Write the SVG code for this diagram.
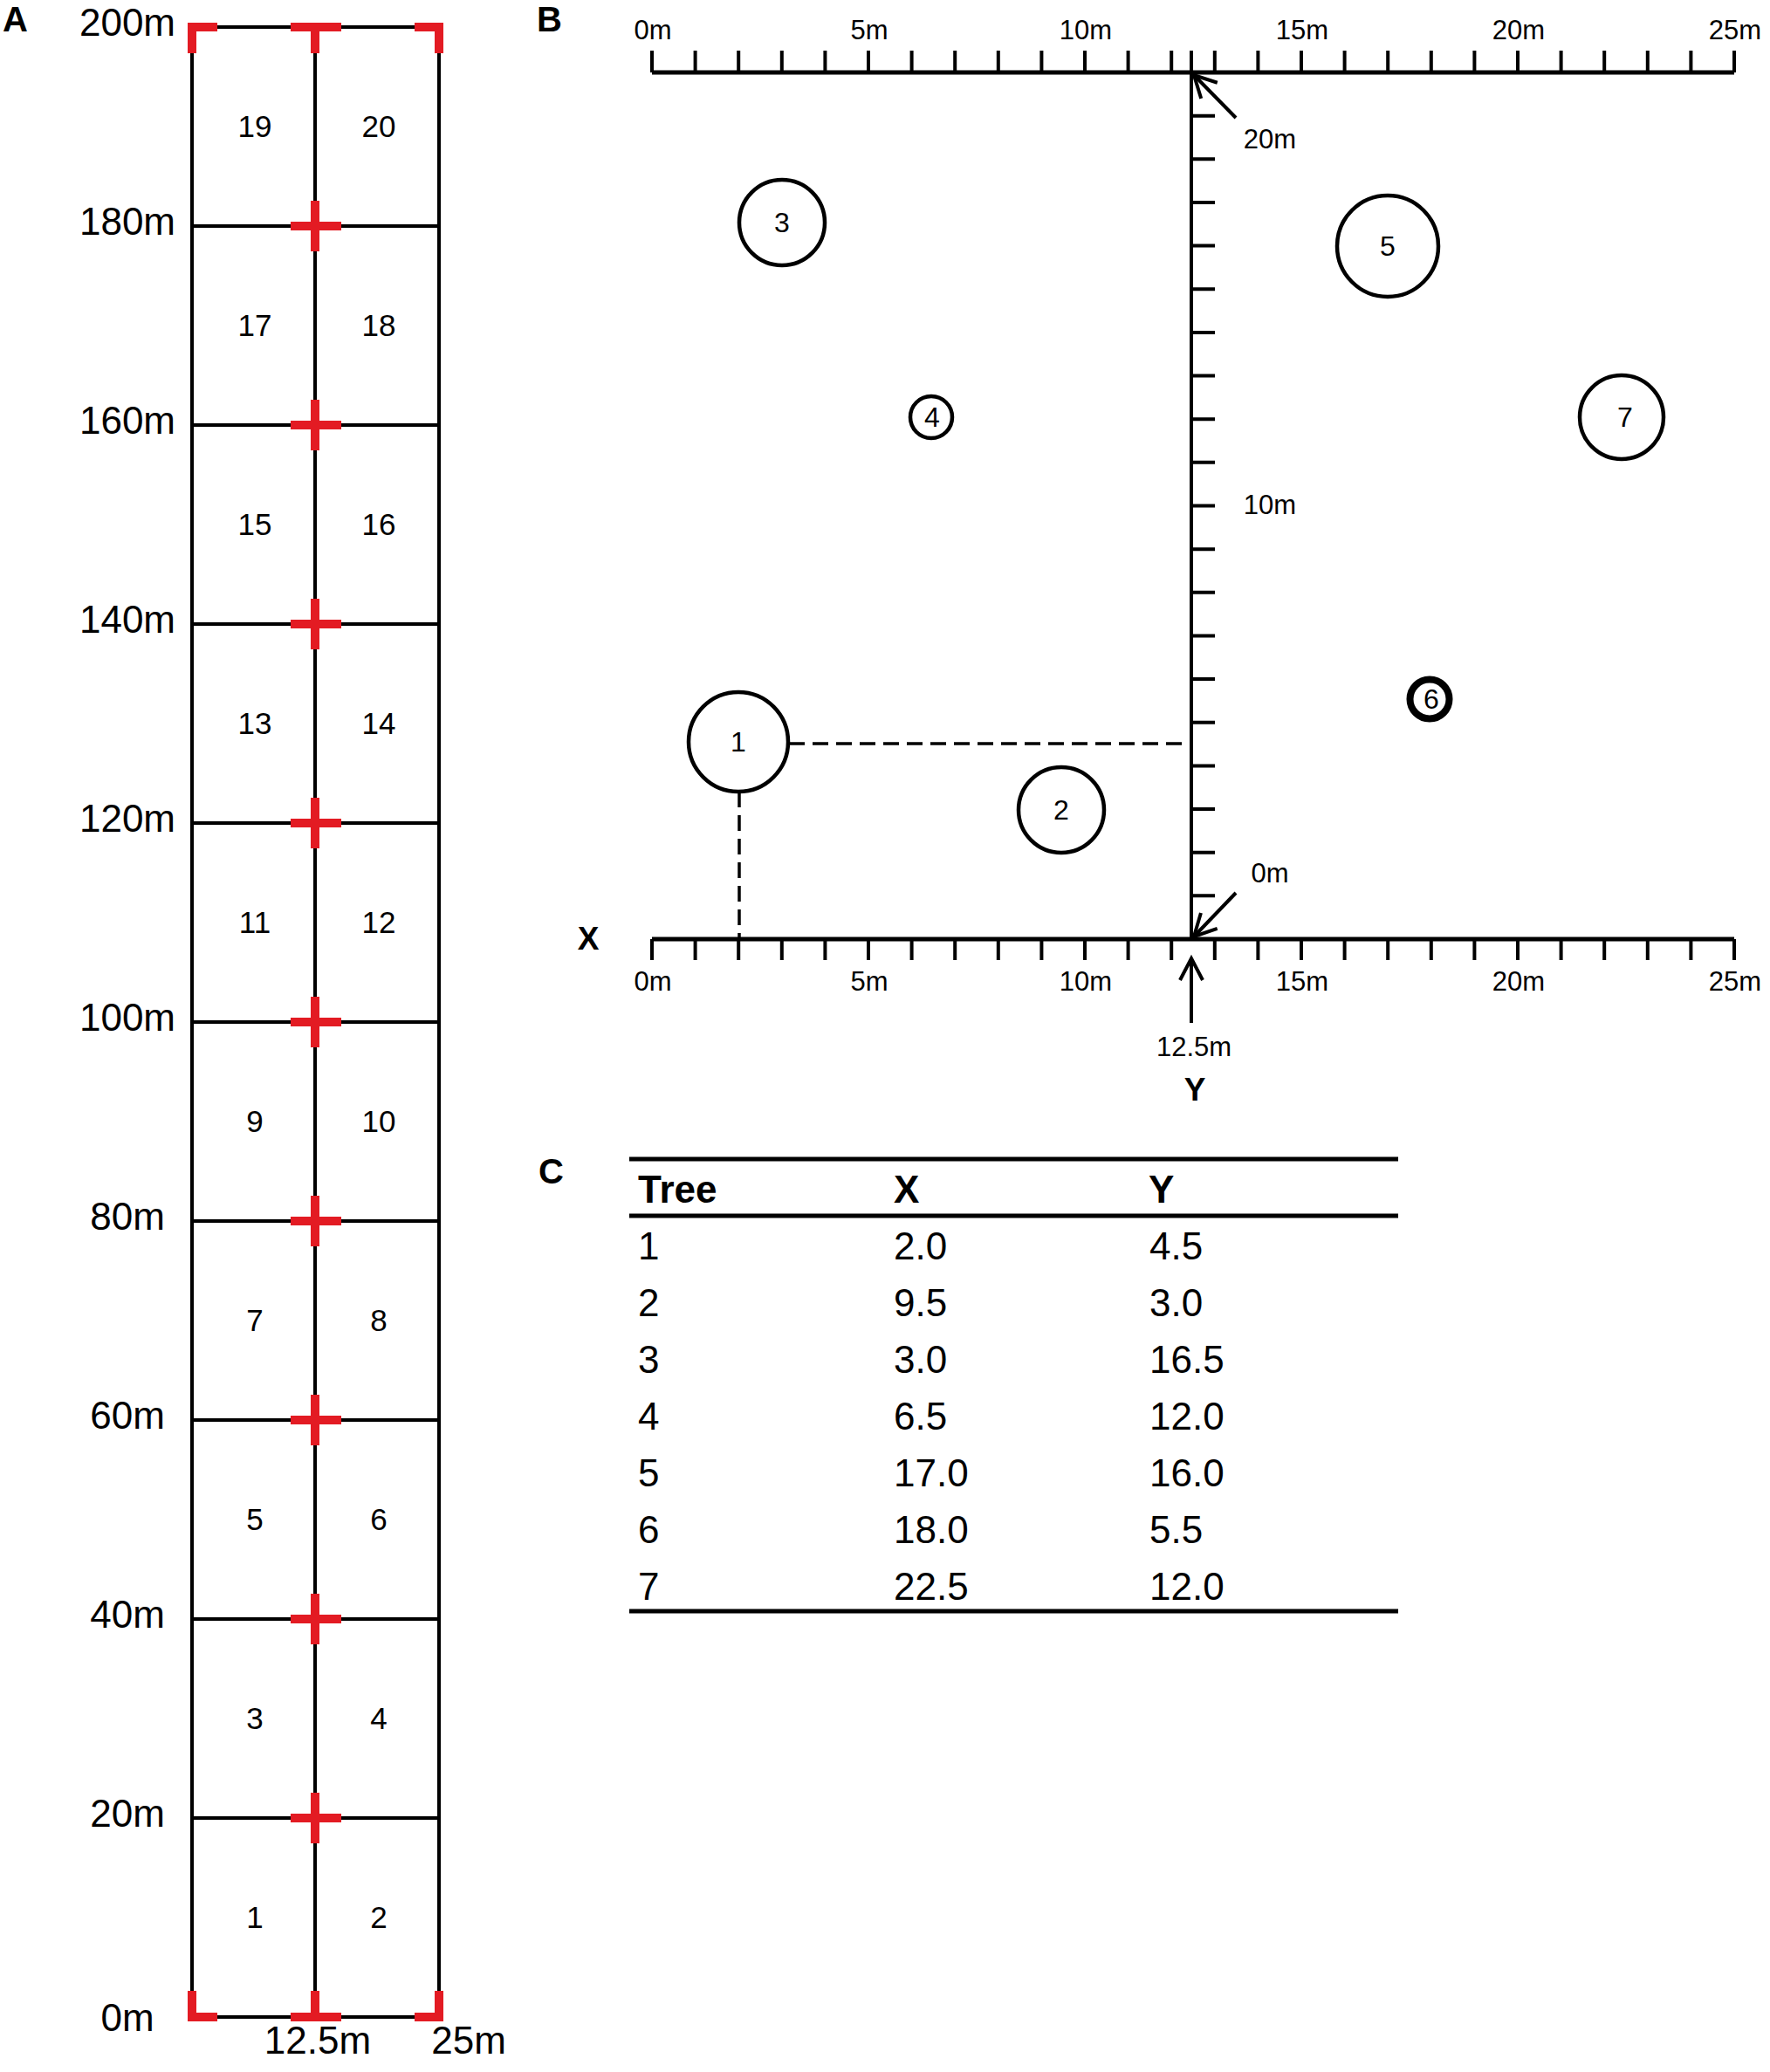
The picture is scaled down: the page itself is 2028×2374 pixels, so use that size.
<svg xmlns="http://www.w3.org/2000/svg" width="2028" height="2374" viewBox="0 0 2028 2374">
<style>
text{font-family:"Liberation Sans",Arial,sans-serif;fill:#000}
.pl{font-weight:bold;font-size:40px}
.al{font-size:44px;text-anchor:middle}
.cl{font-size:35px;text-anchor:middle}
.bl{font-size:31px;text-anchor:middle}
.tl{font-size:32px;text-anchor:middle}
.tb{font-size:44px}
.th{font-size:44px;font-weight:bold}
.ax{font-size:37px;font-weight:bold;text-anchor:middle}
.grid{fill:none;stroke:#000;stroke-width:4}
.red{fill:none;stroke:#e31b23;stroke-width:10;stroke-linejoin:miter;stroke-linecap:butt}
.axis{fill:none;stroke:#000;stroke-width:5}
.tick{fill:none;stroke:#000;stroke-width:4}
.tree{fill:none;stroke:#000;stroke-width:4.5}
.dash{fill:none;stroke:#000;stroke-width:3.5;stroke-dasharray:18 9}
.arr{fill:none;stroke:#000;stroke-width:4}
.rule{stroke:#000;stroke-width:5}
</style>
<defs>
<marker id="chev" markerUnits="userSpaceOnUse" markerWidth="32" markerHeight="32" refX="28" refY="16" orient="auto" overflow="visible">
<path d="M3,3 L28,16 L3,29" fill="none" stroke="#000" stroke-width="4"/>
</marker>
</defs>
<rect width="2028" height="2374" fill="#fff"/>

<g id="panel-labels">
<text class="pl" x="3" y="36">A</text>
<text class="pl" x="615" y="36">B</text>
<text class="pl" x="617" y="1356">C</text>
</g>

<g id="plot-grid">
<rect class="grid" x="220" y="31" width="283" height="2280"/>
<path class="grid" d="M361,31V2311 M220,259H503 M220,487H503 M220,715H503 M220,943H503 M220,1171H503 M220,1399H503 M220,1627H503 M220,1855H503 M220,2083H503"/>
</g>

<g id="plot-markers">
<path class="red" d="M249,31H220V61 M333,31H391 M361,31V61 M475,31H503V61"/>
<path class="red" d="M333,259H391 M361,230V288 M333,487H391 M361,458V516 M333,715H391 M361,686V744 M333,943H391 M361,914V972 M333,1171H391 M361,1142V1200 M333,1399H391 M361,1370V1428 M333,1627H391 M361,1598V1656 M333,1855H391 M361,1826V1884 M333,2083H391 M361,2054V2112"/>
<path class="red" d="M220,2281V2311H249 M333,2311H391 M361,2311V2281 M503,2281V2311H475"/>
</g>

<g id="plot-axis-labels">
<text class="al" x="146" y="41">200m</text>
<text class="al" x="146" y="269">180m</text>
<text class="al" x="146" y="497">160m</text>
<text class="al" x="146" y="725">140m</text>
<text class="al" x="146" y="953">120m</text>
<text class="al" x="146" y="1181">100m</text>
<text class="al" x="146" y="1409">80m</text>
<text class="al" x="146" y="1637">60m</text>
<text class="al" x="146" y="1865">40m</text>
<text class="al" x="146" y="2093">20m</text>
<text class="al" x="146" y="2327">0m</text>
<text class="al" x="364" y="2353">12.5m</text>
<text class="al" x="537" y="2353">25m</text>
</g>

<g id="plot-cells">
<text class="cl" x="292" y="157">19</text><text class="cl" x="434" y="157">20</text>
<text class="cl" x="292" y="385">17</text><text class="cl" x="434" y="385">18</text>
<text class="cl" x="292" y="613">15</text><text class="cl" x="434" y="613">16</text>
<text class="cl" x="292" y="841">13</text><text class="cl" x="434" y="841">14</text>
<text class="cl" x="292" y="1069">11</text><text class="cl" x="434" y="1069">12</text>
<text class="cl" x="292" y="1297">9</text><text class="cl" x="434" y="1297">10</text>
<text class="cl" x="292" y="1525">7</text><text class="cl" x="434" y="1525">8</text>
<text class="cl" x="292" y="1753">5</text><text class="cl" x="434" y="1753">6</text>
<text class="cl" x="292" y="1981">3</text><text class="cl" x="434" y="1981">4</text>
<text class="cl" x="292" y="2209">1</text><text class="cl" x="434" y="2209">2</text>
</g>

<g id="subplot-axes">
<path class="axis" d="M747,83H1987 M747,1076H1987"/>
<path class="tick" d="M1365,58V1076"/>
<path class="tick" d="M747,58V83 M796.6,58V83 M846.2,58V83 M895.8,58V83 M945.4,58V83 M995,58V83 M1044.6,58V83 M1094.2,58V83 M1143.8,58V83 M1193.4,58V83 M1243,58V83 M1292.6,58V83 M1342.2,58V83 M1391.8,58V83 M1441.4,58V83 M1491,58V83 M1540.6,58V83 M1590.2,58V83 M1639.8,58V83 M1689.4,58V83 M1739,58V83 M1788.6,58V83 M1838.2,58V83 M1887.8,58V83 M1937.4,58V83 M1987,58V83"/>
<path class="tick" d="M747,1076V1100 M796.6,1076V1100 M846.2,1076V1100 M895.8,1076V1100 M945.4,1076V1100 M995,1076V1100 M1044.6,1076V1100 M1094.2,1076V1100 M1143.8,1076V1100 M1193.4,1076V1100 M1243,1076V1100 M1292.6,1076V1100 M1342.2,1076V1100 M1391.8,1076V1100 M1441.4,1076V1100 M1491,1076V1100 M1540.6,1076V1100 M1590.2,1076V1100 M1639.8,1076V1100 M1689.4,1076V1100 M1739,1076V1100 M1788.6,1076V1100 M1838.2,1076V1100 M1887.8,1076V1100 M1937.4,1076V1100 M1987,1076V1100"/>
<path class="tick" d="M1365,1026.35H1392 M1365,976.7H1392 M1365,927.05H1392 M1365,877.4H1392 M1365,827.75H1392 M1365,778.1H1392 M1365,728.45H1392 M1365,678.8H1392 M1365,629.15H1392 M1365,579.5H1392 M1365,529.85H1392 M1365,480.2H1392 M1365,430.55H1392 M1365,380.9H1392 M1365,331.25H1392 M1365,281.6H1392 M1365,231.95H1392 M1365,182.3H1392 M1365,132.65H1392"/>
</g>

<g id="subplot-axis-labels">
<text class="bl" x="748" y="45">0m</text>
<text class="bl" x="996" y="45">5m</text>
<text class="bl" x="1244" y="45">10m</text>
<text class="bl" x="1492" y="45">15m</text>
<text class="bl" x="1740" y="45">20m</text>
<text class="bl" x="1988" y="45">25m</text>
<text class="bl" x="748" y="1135">0m</text>
<text class="bl" x="996" y="1135">5m</text>
<text class="bl" x="1244" y="1135">10m</text>
<text class="bl" x="1492" y="1135">15m</text>
<text class="bl" x="1740" y="1135">20m</text>
<text class="bl" x="1988" y="1135">25m</text>
<text class="bl" x="1455" y="170">20m</text>
<text class="bl" x="1455" y="589">10m</text>
<text class="bl" x="1455" y="1011">0m</text>
<text class="bl" x="1368" y="1210">12.5m</text>
<text class="ax" x="674" y="1088">X</text>
<text class="ax" x="1369" y="1261">Y</text>
</g>

<g id="tree-1"><circle class="tree" cx="846" cy="850" r="57"/><text class="tl" x="846" y="861">1</text></g>
<g id="tree-2"><circle class="tree" cx="1216" cy="928" r="49"/><text class="tl" x="1216" y="939">2</text></g>
<g id="tree-3"><circle class="tree" cx="896" cy="255" r="49"/><text class="tl" x="896" y="266">3</text></g>
<g id="tree-4"><circle class="tree" cx="1067" cy="478" r="24"/><text class="tl" x="1068" y="489">4</text></g>
<g id="tree-5"><circle class="tree" cx="1590" cy="282" r="58"/><text class="tl" x="1590" y="293">5</text></g>
<g id="tree-6"><circle cx="1638" cy="801" r="22.5" fill="none" stroke="#000" stroke-width="8"/><text class="tl" x="1640" y="812">6</text></g>
<g id="tree-7"><circle class="tree" cx="1858" cy="478" r="48"/><text class="tl" x="1862" y="489">7</text></g>

<g id="connectors">
<path class="dash" d="M904,852H1365"/>
<path class="dash" d="M847,907V1076"/>
<path class="arr" d="M1416,135L1368,86" marker-end="url(#chev)"/>
<path class="arr" d="M1416,1023L1368,1073" marker-end="url(#chev)"/>
<path class="arr" d="M1365,1172V1098" marker-end="url(#chev)"/>
</g>

<g id="table">
<line class="rule" x1="721" y1="1328" x2="1602" y2="1328"/>
<line class="rule" x1="721" y1="1393" x2="1602" y2="1393"/>
<line class="rule" x1="721" y1="1846" x2="1602" y2="1846"/>
<text class="th" x="731" y="1378">Tree</text>
<text class="th" x="1024" y="1378">X</text>
<text class="th" x="1316" y="1378">Y</text>
<text class="tb" x="731" y="1443">1</text><text class="tb" x="1024" y="1443">2.0</text><text class="tb" x="1317" y="1443">4.5</text>
<text class="tb" x="731" y="1508">2</text><text class="tb" x="1024" y="1508">9.5</text><text class="tb" x="1317" y="1508">3.0</text>
<text class="tb" x="731" y="1573">3</text><text class="tb" x="1024" y="1573">3.0</text><text class="tb" x="1317" y="1573">16.5</text>
<text class="tb" x="731" y="1638">4</text><text class="tb" x="1024" y="1638">6.5</text><text class="tb" x="1317" y="1638">12.0</text>
<text class="tb" x="731" y="1703">5</text><text class="tb" x="1024" y="1703">17.0</text><text class="tb" x="1317" y="1703">16.0</text>
<text class="tb" x="731" y="1768">6</text><text class="tb" x="1024" y="1768">18.0</text><text class="tb" x="1317" y="1768">5.5</text>
<text class="tb" x="731" y="1833">7</text><text class="tb" x="1024" y="1833">22.5</text><text class="tb" x="1317" y="1833">12.0</text>
</g>
</svg>
